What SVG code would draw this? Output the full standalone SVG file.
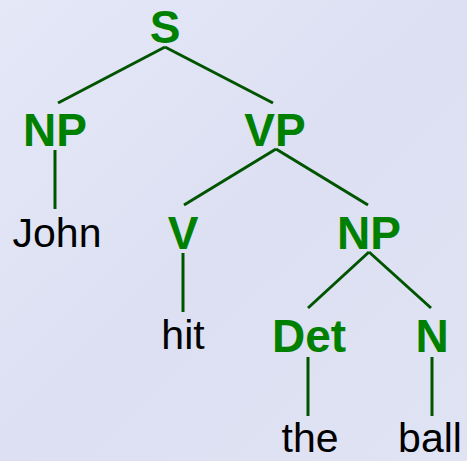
<svg xmlns="http://www.w3.org/2000/svg" width="467" height="461" viewBox="0 0 467 461">
<defs>
<linearGradient id="bg" x1="0" y1="0" x2="1" y2="1">
<stop offset="0" stop-color="#e4e8f7"/>
<stop offset="0.5" stop-color="#dce0f2"/>
<stop offset="1" stop-color="#dfe3f3"/>
</linearGradient>
<style>
.cat{font-family:"Liberation Sans",Arial,sans-serif;font-weight:bold;font-size:46px;fill:#008000;text-anchor:middle}
.word{font-family:"Liberation Sans",Arial,sans-serif;font-size:41px;fill:#000;text-anchor:middle}
.edge{stroke:#005400;stroke-width:3;fill:none}
</style>
</defs>
<rect width="467" height="461" fill="url(#bg)"/>
<g id="connectors">
<line class="edge" x1="165" y1="47" x2="58" y2="103"/>
<line class="edge" x1="165" y1="47" x2="273" y2="103"/>
<line class="edge" x1="55" y1="150" x2="55" y2="209"/>
<line class="edge" x1="276" y1="149" x2="184" y2="205"/>
<line class="edge" x1="276" y1="149" x2="368" y2="205"/>
<line class="edge" x1="183" y1="253" x2="183" y2="312"/>
<line class="edge" x1="369" y1="252" x2="308" y2="308"/>
<line class="edge" x1="369" y1="252" x2="431" y2="308"/>
<line class="edge" x1="308" y1="357" x2="308" y2="416"/>
<line class="edge" x1="432" y1="357" x2="432" y2="416"/>
</g>
<g id="S"><text class="cat" x="165" y="43">S</text></g>
<g id="NP1"><text class="cat" x="55" y="146">NP</text></g>
<g id="VP"><text class="cat" x="275" y="146">VP</text></g>
<g id="John"><text class="word" x="57" y="247">John</text></g>
<g id="V"><text class="cat" x="183" y="249">V</text></g>
<g id="NP2"><text class="cat" x="369" y="249">NP</text></g>
<g id="hit"><text class="word" x="183" y="349">hit</text></g>
<g id="Det"><text class="cat" x="309" y="352">Det</text></g>
<g id="N"><text class="cat" x="432" y="352">N</text></g>
<g id="the"><text class="word" x="310" y="452">the</text></g>
<g id="ball"><text class="word" x="430" y="452">ball</text></g>
</svg>
